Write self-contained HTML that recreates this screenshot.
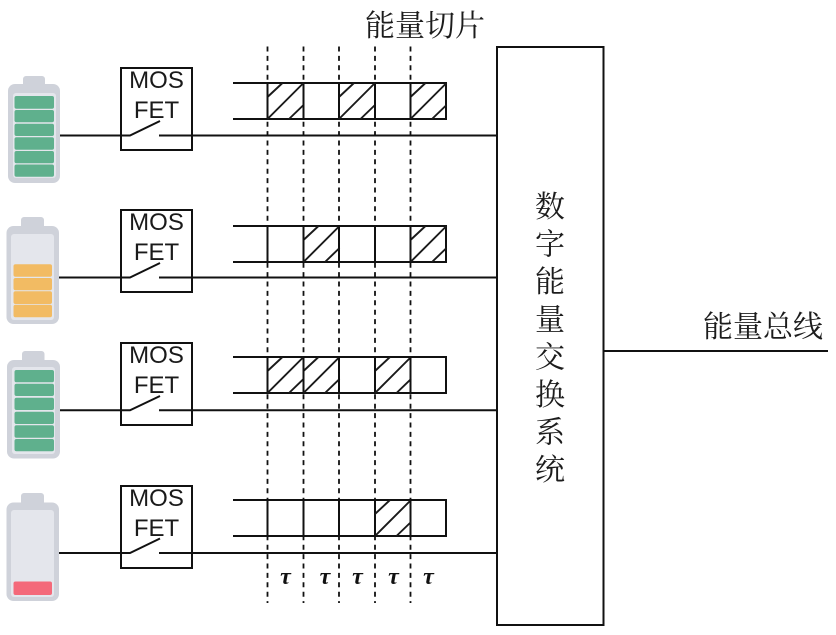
<!DOCTYPE html>
<html lang="zh">
<head>
<meta charset="utf-8">
<style>
html,body{margin:0;padding:0;background:#fff}
svg{display:block}
.cjk{font-family:"Liberation Serif","Noto Serif CJK SC",serif;font-size:30px;fill:#1c1c1c}
.mos{font-family:"Liberation Sans",sans-serif;font-size:24px;fill:#1a1a1a;text-anchor:middle}
.tau{font-family:"Liberation Serif","DejaVu Serif",serif;font-size:24px;font-style:italic;font-weight:bold;fill:#111;text-anchor:middle}
.l{stroke:#111;stroke-width:2;fill:none}
.h{stroke:#1a1a1a;stroke-width:1.9;fill:none}
.d{stroke:#111;stroke-width:1.8;stroke-dasharray:5 4.400;fill:none}
.g{fill:#5fb08d}
.o{fill:#f2bb63}
.bat{fill:#cfd2da}
.inner{fill:#e4e6ec}
</style>
</head>
<body>
<svg width="836" height="635" viewBox="0 0 836 635" xmlns="http://www.w3.org/2000/svg">
<defs>
<g id="hatch">
  <path class="h" d="M0 14L15 0M0 36L36 0M21.500 36L36 22"/>
</g>
<g id="bar">
  <path class="l" d="M233 0H446V36H233M267.500 0V36M303.500 0V36M339 0V36M375 0V36M410.500 0V36"/>
</g>
<g id="sw">
  <rect class="l" x="121" y="0" width="71" height="82"/>
  <text class="mos" x="156.500" y="20">MOS</text>
  <text class="mos" x="156.500" y="50">FET</text>
</g>
</defs>

<!-- batteries -->
<g>
  <rect class="bat" x="23" y="76" width="22" height="14" rx="3"/>
  <rect class="bat" x="8" y="84" width="52" height="99" rx="7"/>
  <rect class="inner" x="13" y="93" width="43" height="85" rx="3"/>
  <rect class="g" x="14.500" y="96" width="39.500" height="12.700" rx="2"/>
  <rect class="g" x="14.500" y="110" width="39.500" height="12.300" rx="2"/>
  <rect class="g" x="14.500" y="123.700" width="39.500" height="12.300" rx="2"/>
  <rect class="g" x="14.500" y="137.300" width="39.500" height="12.400" rx="2"/>
  <rect class="g" x="14.500" y="151" width="39.500" height="12.300" rx="2"/>
  <rect class="g" x="14.500" y="164.500" width="39.500" height="12.300" rx="2"/>
</g>
<g>
  <rect class="bat" x="21" y="217" width="23" height="14" rx="3"/>
  <rect class="bat" x="6.500" y="226" width="52.500" height="98" rx="7"/>
  <rect class="inner" x="11" y="234" width="43" height="86" rx="3"/>
  <rect class="o" x="13.500" y="264.300" width="38.500" height="12.400" rx="2"/>
  <rect class="o" x="13.500" y="278" width="38.500" height="12.300" rx="2"/>
  <rect class="o" x="13.500" y="291.300" width="38.500" height="12.700" rx="2"/>
  <rect class="o" x="13.500" y="304.700" width="38.500" height="12.600" rx="2"/>
</g>
<g>
  <rect class="bat" x="22" y="351" width="22.500" height="14" rx="3"/>
  <rect class="bat" x="7" y="360" width="53" height="98.500" rx="7"/>
  <rect class="inner" x="12" y="367" width="43" height="87" rx="3"/>
  <rect class="g" x="14.500" y="370" width="39.500" height="12.300" rx="2"/>
  <rect class="g" x="14.500" y="383.700" width="39.500" height="12.300" rx="2"/>
  <rect class="g" x="14.500" y="397.700" width="39.500" height="12.300" rx="2"/>
  <rect class="g" x="14.500" y="411.700" width="39.500" height="12.300" rx="2"/>
  <rect class="g" x="14.500" y="425.300" width="39.500" height="12.400" rx="2"/>
  <rect class="g" x="14.500" y="439" width="39.500" height="12.300" rx="2"/>
</g>
<g>
  <rect class="bat" x="21" y="493" width="23" height="14" rx="3"/>
  <rect class="bat" x="6.500" y="502.500" width="52.500" height="98.500" rx="7"/>
  <rect class="inner" x="11" y="510" width="43" height="87" rx="3"/>
  <rect x="13.500" y="581.500" width="38.500" height="13.500" rx="2" fill="#f4697a"/>
</g>

<!-- MOSFET boxes -->
<use href="#sw" y="68"/>
<use href="#sw" y="210"/>
<use href="#sw" y="343"/>
<use href="#sw" y="486"/>

<!-- wires with switches -->
<path class="l" d="M60 135.500H130L160 121M159 135.500H497"/>
<path class="l" d="M59 277.500H130L160 263M159 277.500H497"/>
<path class="l" d="M60 410.300H130L160 396M159 410.300H497"/>
<path class="l" d="M59 553H130L160 538.500M159 553H497"/>

<!-- slices -->
<use href="#bar" y="83"/>
<use href="#hatch" x="267.500" y="83"/>
<use href="#hatch" x="339" y="83"/>
<use href="#hatch" x="410.500" y="83"/>

<use href="#bar" y="226"/>
<use href="#hatch" x="303.500" y="226"/>
<use href="#hatch" x="410.500" y="226"/>

<use href="#bar" y="357"/>
<use href="#hatch" x="267.500" y="357"/>
<use href="#hatch" x="303.500" y="357"/>
<use href="#hatch" x="375" y="357"/>

<use href="#bar" y="500"/>
<use href="#hatch" x="375" y="500"/>

<!-- dashed time lines -->
<path class="d" d="M267.500 46.500V603M303.500 46.500V603M339 46.500V603M375 46.500V603M410.500 46.500V603"/>

<!-- tau -->
<text class="tau" x="285.500" y="584">τ</text>
<text class="tau" x="325" y="584">τ</text>
<text class="tau" x="357.500" y="584">τ</text>
<text class="tau" x="393.500" y="584">τ</text>
<text class="tau" x="428.500" y="584">τ</text>

<!-- exchange box -->
<rect class="l" x="497" y="47" width="106.500" height="578"/>
<path class="l" d="M603.500 351H828"/>

<!-- labels -->
<text class="cjk" x="365" y="36">能量切片</text>
<text class="cjk" x="703" y="337">能量总线</text>
<text class="cjk" x="535" y="217">数</text>
<text class="cjk" x="535" y="254.600">字</text>
<text class="cjk" x="535" y="292.200">能</text>
<text class="cjk" x="535" y="329.800">量</text>
<text class="cjk" x="535" y="367.400">交</text>
<text class="cjk" x="535" y="405">换</text>
<text class="cjk" x="535" y="442.600">系</text>
<text class="cjk" x="535" y="480.200">统</text>
</svg>
</body>
</html>
